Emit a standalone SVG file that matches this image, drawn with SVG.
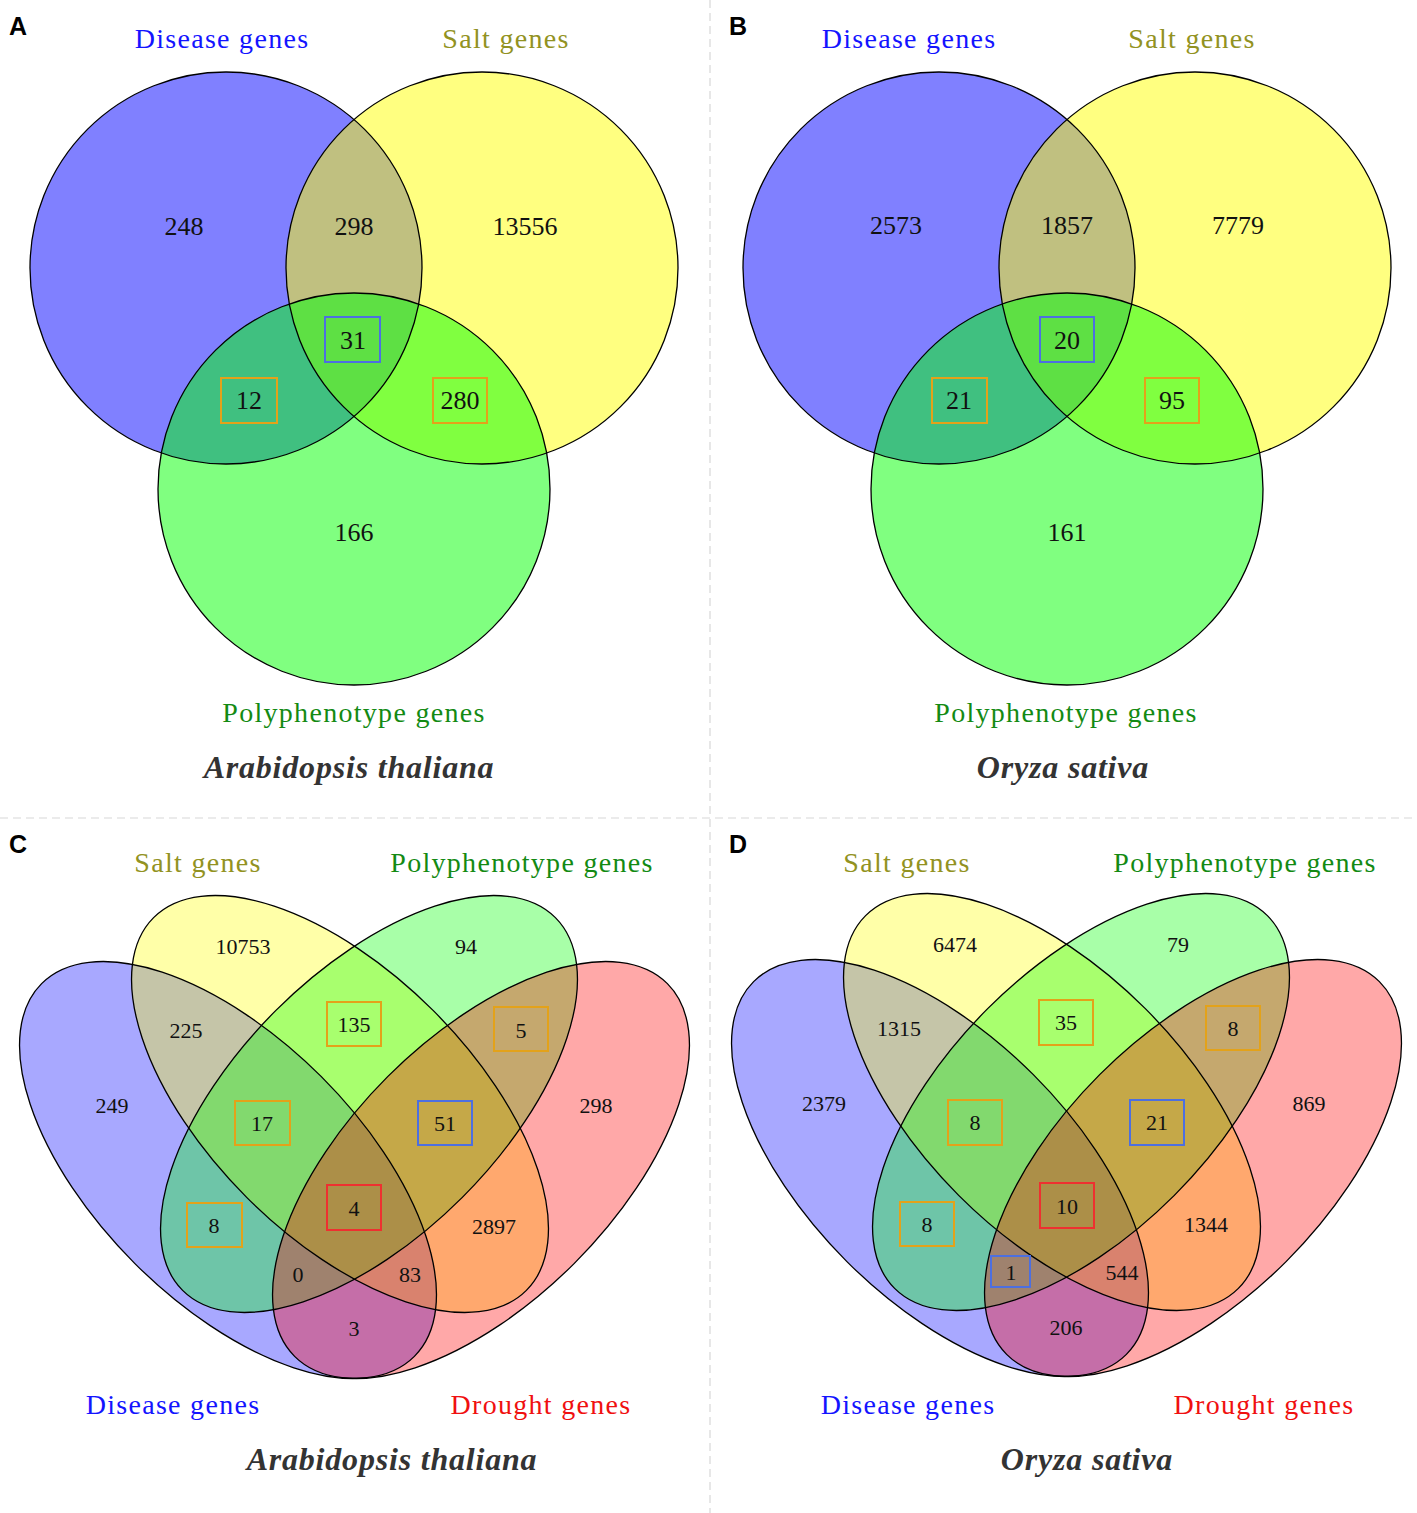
<svg xmlns="http://www.w3.org/2000/svg" width="1417" height="1513" viewBox="0 0 1417 1513">
<style>
.lbl{font-family:"Liberation Serif",serif;font-size:28px;letter-spacing:1.3px;text-anchor:middle}
.dis{fill:#1414ff}.salt{fill:#929222}.poly{fill:#138a13}.dro{fill:#f01010}
.ttl{font-family:"Liberation Serif",serif;font-size:32px;font-weight:bold;font-style:italic;fill:#333;text-anchor:middle;letter-spacing:0.8px}
.pl{font-family:"Liberation Sans",sans-serif;font-size:25px;font-weight:bold;fill:#000}
.n3{font-family:"Liberation Serif",serif;font-size:26px;fill:#111;text-anchor:middle}
.n4{font-family:"Liberation Serif",serif;font-size:22px;fill:#111;text-anchor:middle}
.ol{fill:none;stroke:#000;stroke-width:1.3}
.bo{fill:none;stroke:#e3a21a;stroke-width:2}
.bb{fill:none;stroke:#4d6fe0;stroke-width:2}
.br{fill:none;stroke:#ee3030;stroke-width:2}
.div{stroke:#d8d8d8;stroke-width:1.2;stroke-dasharray:8 5}
.e4{fill-opacity:0.34}
</style>
<defs>
<clipPath id="cB"><circle cx="226" cy="268" r="196"/></clipPath>
<clipPath id="cY"><circle cx="482" cy="268" r="196"/></clipPath>
</defs>
<rect width="1417" height="1513" fill="#fff"/>
<g id="dividers">
<line class="div" x1="710" y1="0" x2="710" y2="1513"/>
<line class="div" x1="0" y1="818" x2="1417" y2="818"/>
</g>

<g id="panelA">
<text class="pl" x="9" y="35">A</text>
<circle cx="226" cy="268" r="196" fill="#8080ff"/>
<circle cx="482" cy="268" r="196" fill="#ffff80"/>
<circle cx="354" cy="489" r="196" fill="#80ff80"/>
<g clip-path="url(#cY)"><circle cx="354" cy="489" r="196" fill="#80ff40"/></g>
<g clip-path="url(#cB)"><circle cx="482" cy="268" r="196" fill="#c0c080"/><circle cx="354" cy="489" r="196" fill="#40c080"/><g clip-path="url(#cY)"><circle cx="354" cy="489" r="196" fill="#5ee044"/></g></g>
<circle class="ol" cx="226" cy="268" r="196"/>
<circle class="ol" cx="482" cy="268" r="196"/>
<circle class="ol" cx="354" cy="489" r="196"/>
<rect class="bb" x="325" y="317" width="55" height="45"/>
<rect class="bo" x="221" y="378" width="56" height="45"/>
<rect class="bo" x="433" y="378" width="54" height="45"/>
<text class="n3" x="184" y="235">248</text>
<text class="n3" x="354" y="235">298</text>
<text class="n3" x="525" y="235">13556</text>
<text class="n3" x="353" y="349">31</text>
<text class="n3" x="249" y="409">12</text>
<text class="n3" x="460" y="409">280</text>
<text class="n3" x="354" y="541">166</text>
<text class="lbl dis" x="222" y="48">Disease genes</text>
<text class="lbl salt" x="506" y="48">Salt genes</text>
<text class="lbl poly" x="354" y="722">Polyphenotype genes</text>
<text class="ttl" x="349" y="778">Arabidopsis thaliana</text>
</g>

<g id="panelB">
<text class="pl" x="729" y="35">B</text>
<g transform="translate(713,0)">
<circle cx="226" cy="268" r="196" fill="#8080ff"/>
<circle cx="482" cy="268" r="196" fill="#ffff80"/>
<circle cx="354" cy="489" r="196" fill="#80ff80"/>
<g clip-path="url(#cY)"><circle cx="354" cy="489" r="196" fill="#80ff40"/></g>
<g clip-path="url(#cB)"><circle cx="482" cy="268" r="196" fill="#c0c080"/><circle cx="354" cy="489" r="196" fill="#40c080"/><g clip-path="url(#cY)"><circle cx="354" cy="489" r="196" fill="#5ee044"/></g></g>
<circle class="ol" cx="226" cy="268" r="196"/>
<circle class="ol" cx="482" cy="268" r="196"/>
<circle class="ol" cx="354" cy="489" r="196"/>
</g>
<rect class="bb" x="1040" y="317" width="54" height="45"/>
<rect class="bo" x="932" y="378" width="55" height="45"/>
<rect class="bo" x="1145" y="378" width="54" height="45"/>
<text class="n3" x="896" y="234">2573</text>
<text class="n3" x="1067" y="234">1857</text>
<text class="n3" x="1238" y="234">7779</text>
<text class="n3" x="1067" y="349">20</text>
<text class="n3" x="959" y="409">21</text>
<text class="n3" x="1172" y="409">95</text>
<text class="n3" x="1067" y="541">161</text>
<text class="lbl dis" x="909" y="48">Disease genes</text>
<text class="lbl salt" x="1192" y="48">Salt genes</text>
<text class="lbl poly" x="1066" y="722">Polyphenotype genes</text>
<text class="ttl" x="1063" y="778">Oryza sativa</text>
</g>

<g id="panelC">
<text class="pl" x="9" y="853">C</text>
<ellipse class="e4" cx="228" cy="1170" rx="263.6" ry="132" transform="rotate(45 228 1170)" fill="#0000ff"/>
<ellipse class="e4" cx="340" cy="1104" rx="263.6" ry="132" transform="rotate(45 340 1104)" fill="#ffff00"/>
<ellipse class="e4" cx="369" cy="1104" rx="263.6" ry="132" transform="rotate(-45 369 1104)" fill="#00ff00"/>
<ellipse class="e4" cx="481" cy="1170" rx="263.6" ry="132" transform="rotate(-45 481 1170)" fill="#ff0000"/>
<ellipse class="ol" cx="228" cy="1170" rx="263.6" ry="132" transform="rotate(45 228 1170)"/>
<ellipse class="ol" cx="340" cy="1104" rx="263.6" ry="132" transform="rotate(45 340 1104)"/>
<ellipse class="ol" cx="369" cy="1104" rx="263.6" ry="132" transform="rotate(-45 369 1104)"/>
<ellipse class="ol" cx="481" cy="1170" rx="263.6" ry="132" transform="rotate(-45 481 1170)"/>
<rect class="bo" x="327" y="1002" width="54" height="44"/>
<rect class="bo" x="494" y="1007" width="54" height="44"/>
<rect class="bo" x="235" y="1101" width="55" height="44"/>
<rect class="bb" x="418" y="1101" width="54" height="44"/>
<rect class="bo" x="187" y="1203" width="55" height="44"/>
<rect class="br" x="327" y="1185" width="54" height="45"/>
<text class="n4" x="243" y="954">10753</text>
<text class="n4" x="466" y="954">94</text>
<text class="n4" x="186" y="1038">225</text>
<text class="n4" x="354" y="1032">135</text>
<text class="n4" x="521" y="1038">5</text>
<text class="n4" x="112" y="1113">249</text>
<text class="n4" x="262" y="1131">17</text>
<text class="n4" x="445" y="1131">51</text>
<text class="n4" x="596" y="1113">298</text>
<text class="n4" x="214" y="1233">8</text>
<text class="n4" x="354" y="1216">4</text>
<text class="n4" x="494" y="1234">2897</text>
<text class="n4" x="298" y="1282">0</text>
<text class="n4" x="410" y="1282">83</text>
<text class="n4" x="354" y="1336">3</text>
<text class="lbl salt" x="198" y="872">Salt genes</text>
<text class="lbl poly" x="522" y="872">Polyphenotype genes</text>
<text class="lbl dis" x="173" y="1414">Disease genes</text>
<text class="lbl dro" x="541" y="1414">Drought genes</text>
<text class="ttl" x="392" y="1470">Arabidopsis thaliana</text>
</g>

<g id="panelD">
<text class="pl" x="729" y="853">D</text>
<g transform="translate(712,-2)">
<ellipse class="e4" cx="228" cy="1170" rx="263.6" ry="132" transform="rotate(45 228 1170)" fill="#0000ff"/>
<ellipse class="e4" cx="340" cy="1104" rx="263.6" ry="132" transform="rotate(45 340 1104)" fill="#ffff00"/>
<ellipse class="e4" cx="369" cy="1104" rx="263.6" ry="132" transform="rotate(-45 369 1104)" fill="#00ff00"/>
<ellipse class="e4" cx="481" cy="1170" rx="263.6" ry="132" transform="rotate(-45 481 1170)" fill="#ff0000"/>
<ellipse class="ol" cx="228" cy="1170" rx="263.6" ry="132" transform="rotate(45 228 1170)"/>
<ellipse class="ol" cx="340" cy="1104" rx="263.6" ry="132" transform="rotate(45 340 1104)"/>
<ellipse class="ol" cx="369" cy="1104" rx="263.6" ry="132" transform="rotate(-45 369 1104)"/>
<ellipse class="ol" cx="481" cy="1170" rx="263.6" ry="132" transform="rotate(-45 481 1170)"/>
</g>
<rect class="bo" x="1039" y="1000" width="54" height="45"/>
<rect class="bo" x="1206" y="1006" width="54" height="44"/>
<rect class="bo" x="948" y="1100" width="54" height="45"/>
<rect class="bb" x="1130" y="1100" width="54" height="45"/>
<rect class="bo" x="900" y="1202" width="54" height="44"/>
<rect class="br" x="1040" y="1183" width="54" height="45"/>
<rect class="bb" x="991" y="1256" width="39" height="31"/>
<text class="n4" x="955" y="952">6474</text>
<text class="n4" x="1178" y="952">79</text>
<text class="n4" x="899" y="1036">1315</text>
<text class="n4" x="1066" y="1030">35</text>
<text class="n4" x="1233" y="1036">8</text>
<text class="n4" x="824" y="1111">2379</text>
<text class="n4" x="975" y="1130">8</text>
<text class="n4" x="1157" y="1130">21</text>
<text class="n4" x="1309" y="1111">869</text>
<text class="n4" x="927" y="1232">8</text>
<text class="n4" x="1067" y="1214">10</text>
<text class="n4" x="1206" y="1232">1344</text>
<text class="n4" x="1011" y="1280">1</text>
<text class="n4" x="1122" y="1280">544</text>
<text class="n4" x="1066" y="1335">206</text>
<text class="lbl salt" x="907" y="872">Salt genes</text>
<text class="lbl poly" x="1245" y="872">Polyphenotype genes</text>
<text class="lbl dis" x="908" y="1414">Disease genes</text>
<text class="lbl dro" x="1264" y="1414">Drought genes</text>
<text class="ttl" x="1087" y="1470">Oryza sativa</text>
</g>
</svg>
